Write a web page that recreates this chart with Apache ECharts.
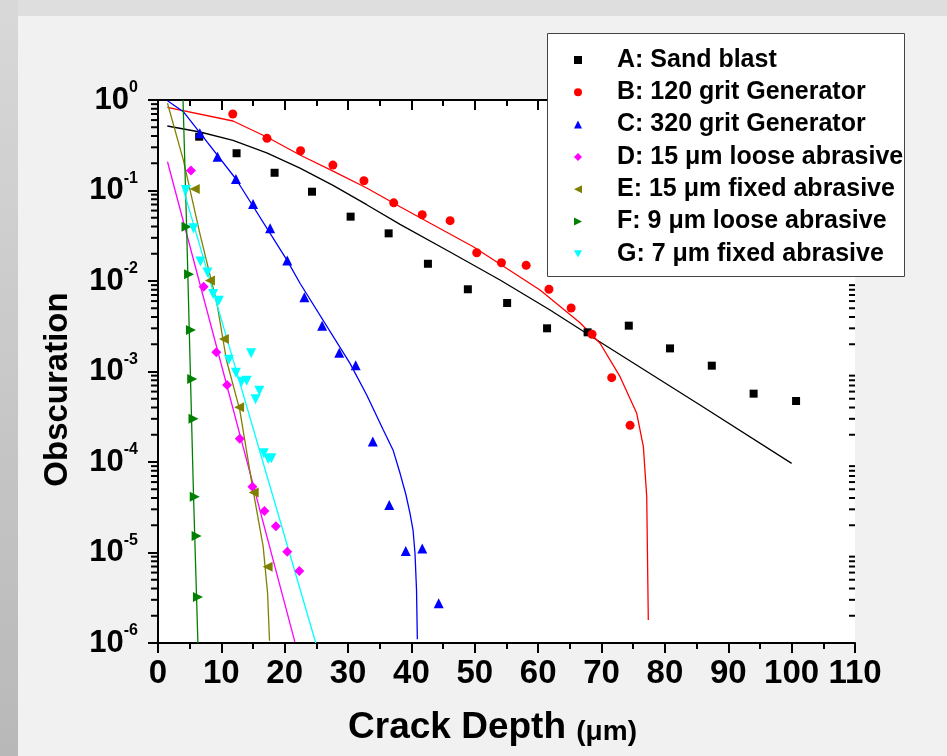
<!DOCTYPE html>
<html>
<head>
<meta charset="utf-8">
<script src="https://cdn.jsdelivr.net/npm/echarts@6/dist/echarts.min.js"></script>
<style>
  html, body { margin: 0; padding: 0; background: #f1f1f1; }
  #chart { width: 947px; height: 756px; }
</style>
</head>
<body>
<div id="chart"></div>
<script>
// Measured crack-depth distributions (depth in µm, obscuration fraction)
const depthA = [6.5, 12.4, 18.4, 24.3, 30.4, 36.4, 42.6, 48.9, 55.1, 61.4, 67.8, 74.3, 80.8, 87.4, 94.0, 100.7];
const obscA  = [0.393, 0.258, 0.157, 0.097, 0.0514, 0.0336, 0.0155, 0.0081, 0.00571, 0.0030, 0.00271, 0.00321, 0.0018, 0.00116, 0.000569, 0.000472];

const depthB = [11.8, 17.2, 22.5, 27.6, 32.5, 37.2, 41.7, 46.1, 50.3, 54.2, 58.1, 61.7, 65.2, 68.5, 71.6, 74.5];
const obscB  = [0.70, 0.377, 0.275, 0.191, 0.128, 0.073, 0.054, 0.0464, 0.0205, 0.0159, 0.0149, 0.0081, 0.00503, 0.00258, 0.000855, 0.000254];

const depthC = [6.6, 9.4, 12.3, 15.0, 17.7, 20.4, 23.1, 25.9, 28.6, 31.2, 33.9, 36.5, 39.1, 41.7, 44.3];
const obscC  = [0.428, 0.236, 0.134, 0.071, 0.0382, 0.0168, 0.0066, 0.00321, 0.00161, 0.00117, 0.000168, 3.35e-5, 1.04e-5, 1.11e-5, 2.75e-6];

const depthD = [5.2, 7.2, 9.2, 10.9, 12.9, 14.9, 16.8, 18.6, 20.4, 22.3];
const obscD  = [0.166, 0.00866, 0.00163, 0.00071, 0.000181, 5.33e-5, 2.88e-5, 1.95e-5, 1.02e-5, 6.25e-6];

const depthE = [5.8, 8.2, 10.4, 12.8, 15.1, 17.3];
const obscE  = [0.104, 0.0101, 0.00229, 0.000402, 4.59e-5, 6.97e-6];

const depthF = [4.5, 4.9, 5.2, 5.4, 5.6, 5.8, 6.1, 6.3];
const obscF  = [0.0398, 0.0119, 0.00287, 0.000826, 0.000301, 4.14e-5, 1.52e-5, 3.22e-6];

const depthG = [4.4, 5.6, 6.7, 7.8, 8.7, 9.6, 11.2, 12.3, 13.2, 14.0, 14.7, 15.4, 16.0, 16.7, 17.4, 17.9];
const obscG  = [0.101, 0.0382, 0.0164, 0.0124, 0.00718, 0.00606, 0.00135, 0.00097, 0.00077, 0.00079, 0.00159, 0.000493, 0.000614, 0.000125, 0.000108, 0.00011];

// Fitted distribution curves
const fitDepthA = [1.47, 6.63, 11.84, 17.16, 22.41, 27.62, 32.94, 38.2, 46.09, 53.98, 61.87, 69.76, 85.54, 100.0];
const fitObscA  = [0.516, 0.443, 0.357, 0.26, 0.177, 0.114, 0.0697, 0.0423, 0.0209, 0.01026, 0.00478, 0.00212, 0.000426, 9.66e-5];

const fitDepthB = [1.47, 11.84, 17.16, 22.41, 27.62, 32.94, 38.2, 49.76, 60.29, 66.6, 69.76, 72.92, 75.55, 76.6, 77.13, 77.38];
const fitObscB  = [0.83, 0.586, 0.39, 0.247, 0.164, 0.1066, 0.0662, 0.0239, 0.00796, 0.00346, 0.00205, 0.000877, 0.000345, 0.000148, 4.14e-5, 1.8e-6];

const fitDepthC = [1.5, 4.0, 6.6, 12.3, 20.4, 22.41, 30.3, 32.94, 35.56, 37.09, 38.2, 39.14, 39.77, 40.25, 40.56, 40.8, 40.93];
const fitObscC  = [0.98, 0.743, 0.436, 0.134, 0.0168, 0.00944, 0.00123, 5.5e-4, 2.26e-4, 1.36e-4, 7.5e-5, 4.32e-5, 2.71e-5, 1.77e-5, 9.8e-6, 3.85e-6, 1.1e-6];

const fitDepthD = [1.5, 21.6];
const fitObscD  = [0.208, 1.03e-6];

const fitDepthE = [1.5, 4.0, 6.6, 9.3, 10.8, 12.9, 15.0, 16.6, 17.3, 17.6];
const fitObscE  = [0.92, 0.217, 0.0336, 0.00567, 0.00134, 0.000376, 4.9e-5, 1.16e-5, 3.5e-6, 1.06e-6];

const fitDepthF = [3.95, 4.5, 5.6, 6.3];
const fitObscF  = [1.0, 0.043, 4.4e-5, 1.0e-6];

const fitDepthG = [3.9, 24.9];
const fitObscG  = [0.109, 1.0e-6];

const seriesNames = [
  'A: Sand blast',
  'B: 120 grit Generator',
  'C: 320 grit Generator',
  'D: 15 \u03bcm loose abrasive',
  'E: 15 \u03bcm fixed abrasive',
  'F: 9 \u03bcm loose abrasive',
  'G: 7 \u03bcm fixed abrasive'
];

const xTicks = [0, 110, 10];          // min, max, step of the depth axis
const yRange = [1e-6, 1];             // obscuration axis range

const FONT = '"Liberation Sans", Arial, Helvetica, sans-serif';

const colors  = ['#000000', '#ff0000', '#0000ff', '#ff00ff', '#808000', '#008000', '#00ffff'];
const symbols = [
  'rect', 'circle', 'triangle', 'diamond',
  'path://M0,5 L10,0 L10,10 Z',
  'path://M10,5 L0,0 L0,10 Z',
  'path://M0,0 L10,0 L5,9 Z'
];
const symbolSizes = [8, 9, 10, 10, 10, 10, 10];

const points = [
  [depthA, obscA], [depthB, obscB], [depthC, obscC], [depthD, obscD],
  [depthE, obscE], [depthF, obscF], [depthG, obscG]
];
const fits = [
  [fitDepthA, fitObscA], [fitDepthB, fitObscB], [fitDepthC, fitObscC], [fitDepthD, fitObscD],
  [fitDepthE, fitObscE], [fitDepthF, fitObscF], [fitDepthG, fitObscG]
];

const zip = (xs, ys) => xs.map((x, i) => [x, ys[i]]);

// minor ticks of the log axis at 2..9 × 10^k
const minorLogTicks = [];
for (let k = -6; k < 0; k++) {
  for (let m = 2; m <= 9; m++) minorLogTicks.push([0, m * Math.pow(10, k)]);
}

const series = [];
fits.forEach((f, i) => {
  series.push({
    type: 'line',
    name: 'fit-' + i,
    data: zip(f[0], f[1]),
    showSymbol: false,
    smooth: false,
    lineStyle: { color: colors[i], width: 1.3 },
    itemStyle: { color: colors[i] },
    silent: true,
    z: 2
  });
});
points.forEach((p, i) => {
  series.push({
    type: 'scatter',
    name: seriesNames[i],
    data: zip(p[0], p[1]),
    symbol: symbols[i],
    symbolSize: symbolSizes[i],
    itemStyle: { color: colors[i], opacity: 1 },
    z: 3
  });
});
series.push({
  type: 'custom',
  name: 'minor-ticks',
  data: minorLogTicks,
  silent: true,
  renderItem: function (params, api) {
    const v = api.value(1);
    const l = api.coord([xTicks[0], v]);
    const r = api.coord([xTicks[1], v]);
    return {
      type: 'group',
      children: [
        { type: 'line', shape: { x1: l[0] - 7, y1: l[1], x2: l[0], y2: l[1] }, style: { stroke: '#000', lineWidth: 2 } },
        { type: 'line', shape: { x1: r[0] - 6, y1: r[1], x2: r[0], y2: r[1] }, style: { stroke: '#000', lineWidth: 2 } }
      ]
    };
  },
  z: 1
});

const axisLineStyle = { color: '#000', width: 2 };

const chart = echarts.init(document.getElementById('chart'), null, { renderer: 'canvas' });
chart.setOption({
  animation: false,
  backgroundColor: '#f1f1f1',
  textStyle: { fontFamily: FONT },
  graphic: [
    {
      type: 'rect', left: 0, top: 0, z: -10,
      shape: { width: 947, height: 16 },
      style: { fill: '#dedede' }
    },
    {
      type: 'rect', left: 0, top: 0, z: -9,
      shape: { width: 18, height: 756 },
      style: {
        fill: new echarts.graphic.LinearGradient(0, 0, 0, 1, [
          { offset: 0, color: '#d8d8d8' },
          { offset: 1, color: '#b8b8b8' }
        ])
      }
    },
    {
      type: 'rect', left: 547, top: 33, z: 3,
      shape: { width: 357, height: 243 },
      style: { fill: '#ffffff', stroke: '#444', lineWidth: 1 }
    }
  ],
  grid: {
    left: 158, top: 100, width: 697, height: 543,
    show: true, backgroundColor: '#ffffff', borderWidth: 0
  },
  legend: {
    data: seriesNames,
    orient: 'vertical',
    left: 574,
    top: 47,
    padding: 0,
    itemWidth: 8,
    itemHeight: 8,
    itemGap: 6.3,
    selectedMode: false,
    z: 4,
    textStyle: {
      fontFamily: FONT, fontSize: 25, fontWeight: 'bold', color: '#000',
      lineHeight: 26, padding: [0, 0, 0, 30]
    }
  },
  xAxis: [
    {
      type: 'value', position: 'bottom',
      min: xTicks[0], max: xTicks[1], interval: xTicks[2],
      axisLine: { lineStyle: axisLineStyle },
      axisTick: { length: 10, lineStyle: axisLineStyle },
      minorTick: { show: true, splitNumber: 2, length: 6, lineStyle: axisLineStyle },
      splitLine: { show: false },
      axisLabel: { fontFamily: FONT, fontSize: 33, fontWeight: 'bold', color: '#000', margin: 14 },
      name: 'Crack Depth {u|(\u03bcm)}',
      nameLocation: 'middle',
      nameGap: 66,
      nameTextStyle: {
        fontFamily: FONT, fontSize: 37, fontWeight: 'bold', color: '#000',
        lineHeight: 37, padding: [0, 28, 0, 0],
        rich: { u: { fontFamily: FONT, fontSize: 28, fontWeight: 'bold', color: '#000', lineHeight: 28, verticalAlign: 'bottom' } }
      }
    },
    {
      type: 'value', position: 'top',
      min: xTicks[0], max: xTicks[1], interval: xTicks[2],
      axisLine: { lineStyle: axisLineStyle },
      axisTick: { inside: true, length: 10, lineStyle: axisLineStyle },
      minorTick: { show: true, splitNumber: 2, length: 6, lineStyle: axisLineStyle },
      splitLine: { show: false },
      axisLabel: { show: false }
    }
  ],
  yAxis: [
    {
      type: 'log', logBase: 10, position: 'left',
      min: yRange[0], max: yRange[1], splitNumber: 6,
      axisLine: { lineStyle: axisLineStyle },
      axisTick: { length: 10, lineStyle: axisLineStyle },
      splitLine: { show: false },
      axisLabel: {
        margin: 20,
        formatter: function (v) {
          const e = Math.round(Math.log10(v));
          return '{b|10}{s|' + e + '}';
        },
        rich: {
          b: { fontFamily: FONT, fontSize: 31, fontWeight: 'bold', color: '#000', lineHeight: 40 },
          s: { fontFamily: FONT, fontSize: 16, fontWeight: 'bold', color: '#000', lineHeight: 16, verticalAlign: 'top' }
        }
      },
      name: 'Obscuration',
      nameLocation: 'middle',
      nameGap: 84,
      nameTextStyle: {
        fontFamily: FONT, fontSize: 33, fontWeight: 'bold', color: '#000',
        padding: [0, 36, 0, 0]
      }
    },
    {
      type: 'log', logBase: 10, position: 'right',
      min: yRange[0], max: yRange[1], splitNumber: 6,
      axisLine: { lineStyle: axisLineStyle },
      axisTick: { inside: true, length: 10, lineStyle: axisLineStyle },
      splitLine: { show: false },
      axisLabel: { show: false }
    }
  ],
  series: series
});
</script>
</body>
</html>
